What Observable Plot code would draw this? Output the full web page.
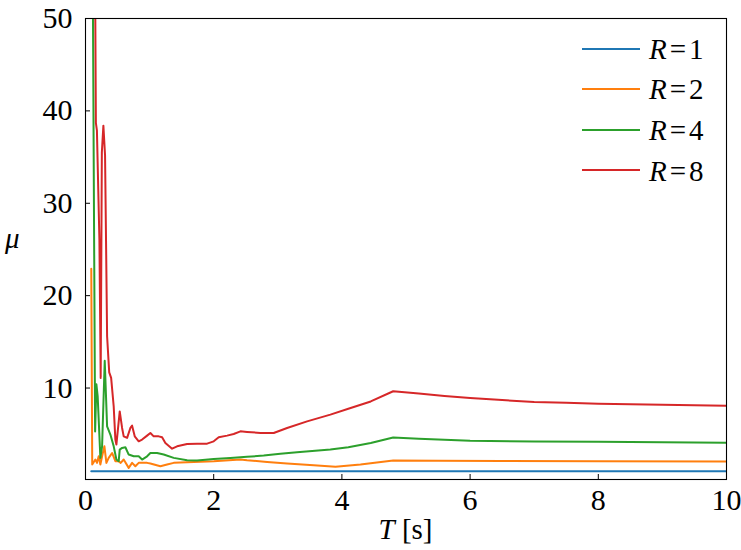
<!DOCTYPE html>
<html><head><meta charset="utf-8">
<script src="https://cdn.jsdelivr.net/npm/d3@7"></script>
<script src="https://cdn.jsdelivr.net/npm/@observablehq/plot@0.6"></script>
<style>
html,body{margin:0;padding:0;background:#fff;}
#wrap{position:relative;width:741px;height:550px;font-family:'Liberation Serif';color:#000;}
#wrap svg{position:absolute;left:0;top:0;}
.lab{position:absolute;font-size:29px;line-height:1;white-space:nowrap;font-family:'Liberation Serif';}
.eq{margin:0 3px;}
.swatch{position:absolute;height:2px;width:58px;}
</style></head><body><div id="wrap"></div>
<script>
// series keys, legend labels and colours
const seriesKeys = ["R=1", "R=2", "R=4", "R=8"];
const seriesNums = ["1", "2", "4", "8"];
const seriesColors = ["#1f77b4", "#ff7f0e", "#2ca02c", "#d62728"];

// R = 1
const T_R1 = [0.09, 10.0];
const MU_R1 = [1.0, 1.0];

// R = 2
const T_R2 = [0.09, 0.105, 0.154, 0.18, 0.206, 0.232, 0.259, 0.295, 0.326, 0.362, 0.415, 0.466, 0.518, 0.549, 0.596, 0.674, 0.727, 0.778, 0.83, 0.961, 1.012, 1.168, 1.273, 1.376, 1.585, 2.0, 2.417, 2.52, 2.833, 3.145, 3.56, 3.9, 4.29, 4.8, 5.5, 6.5, 8.0, 10.0];
const MU_R2 = [22.9, 1.72, 2.26, 1.9, 2.61, 1.72, 2.61, 3.69, 1.9, 2.44, 2.97, 2.08, 2.08, 1.9, 2.26, 1.36, 1.9, 1.53, 1.9, 1.9, 1.83, 1.53, 1.72, 1.9, 1.97, 2.08, 2.26, 2.18, 2.0, 1.83, 1.64, 1.47, 1.72, 2.15, 2.13, 2.1, 2.07, 2.04];

// R = 4
const T_R4 = [0.09, 0.113, 0.15, 0.17, 0.19, 0.232, 0.259, 0.30, 0.337, 0.388, 0.44, 0.482, 0.518, 0.534, 0.571, 0.622, 0.674, 0.752, 0.83, 0.883, 0.961, 1.012, 1.117, 1.22, 1.376, 1.585, 1.741, 2.0, 2.26, 2.52, 2.78, 3.04, 3.3, 3.82, 4.1, 4.45, 4.8, 5.2, 6.0, 7.0, 8.0, 9.0, 10.0];
const MU_R4 = [150, 55, 5.3, 10.4, 9.1, 2.44, 3.7, 12.95, 5.85, 4.96, 3.69, 2.26, 2.08, 3.34, 3.52, 3.59, 2.8, 2.61, 2.61, 2.26, 2.61, 2.97, 2.97, 2.8, 2.44, 2.18, 2.15, 2.33, 2.44, 2.55, 2.69, 2.9, 3.05, 3.34, 3.6, 4.05, 4.65, 4.5, 4.3, 4.22, 4.18, 4.12, 4.08];

// R = 8
const T_R8 = [0.09, 0.145, 0.162, 0.178, 0.217, 0.237, 0.255, 0.279, 0.305, 0.322, 0.337, 0.37, 0.40, 0.44, 0.466, 0.482, 0.534, 0.571, 0.596, 0.649, 0.70, 0.727, 0.768, 0.83, 0.883, 0.961, 1.012, 1.064, 1.142, 1.195, 1.246, 1.351, 1.429, 1.585, 1.741, 1.897, 2.0, 2.078, 2.209, 2.312, 2.417, 2.52, 2.729, 2.936, 3.145, 3.457, 3.82, 4.1, 4.45, 4.8, 5.2, 5.6, 6.0, 6.5, 7.0, 7.5, 8.0, 9.0, 10.0];
const MU_R8 = [300, 60, 38.7, 37.9, 26, 11.1, 35.5, 38.4, 35.2, 25, 15.6, 11.7, 11.1, 8.0, 4.42, 3.88, 7.47, 5.68, 4.77, 4.6, 5.68, 5.93, 4.77, 4.23, 4.42, 4.85, 5.14, 4.77, 4.77, 4.67, 4.06, 3.44, 3.69, 3.95, 3.98, 3.98, 4.23, 4.67, 4.85, 5.03, 5.31, 5.25, 5.14, 5.14, 5.68, 6.39, 7.12, 7.75, 8.55, 9.65, 9.4, 9.15, 8.92, 8.7, 8.5, 8.4, 8.3, 8.2, 8.08];

const xTicks = [0, 2, 4, 6, 8, 10];
const yTicks = [10, 20, 30, 40, 50];

const seriesT = [T_R1, T_R2, T_R4, T_R8];
const seriesMu = [MU_R1, MU_R2, MU_R4, MU_R8];
const rows = [];
seriesKeys.forEach((k, i) => {
  seriesT[i].forEach((t, j) => rows.push({series: k, T: t, mu: seriesMu[i][j]}));
});

const plot = Plot.plot({
  width: 741, height: 550,
  marginLeft: 85, marginRight: 15, marginTop: 18, marginBottom: 71,
  style: {fontFamily: "Liberation Serif", fontSize: "30px", background: "white", color: "black"},
  x: {domain: [0, 10]},
  y: {domain: [0.1, 50]},
  color: {domain: seriesKeys, range: seriesColors},
  marks: [
    Plot.line(rows, {x: "T", y: "mu", z: "series", stroke: "series", strokeWidth: 2, clip: true}),
    Plot.frame({stroke: "black", strokeWidth: 1.1}),
    Plot.axisX({ticks: xTicks, tickSize: -5, tickPadding: 14, label: null, tickFormat: d => String(d), fontVariant: "normal"}),
    Plot.axisY({ticks: yTicks, tickSize: -5, tickPadding: 18, label: null, tickFormat: d => String(d), fontVariant: "normal"})
  ]
});

const wrap = document.getElementById("wrap");
wrap.appendChild(plot);

// legend (inside the axes, upper right)
seriesKeys.forEach((k, i) => {
  const yc = 48.5 + i * 40.6;
  const sw = document.createElement("div");
  sw.className = "swatch";
  sw.style.left = "582px";
  sw.style.top = (yc - 1) + "px";
  sw.style.background = seriesColors[i];
  wrap.appendChild(sw);
  const t = document.createElement("div");
  t.className = "lab";
  t.style.left = "649px";
  t.style.top = (yc + 1 - 14.7) + "px";
  t.innerHTML = "<i>R</i><span class='eq'>=</span>" + seriesNums[i];
  wrap.appendChild(t);
});

// axis labels
const yl = document.createElement("div");
yl.className = "lab";
yl.style.left = "5px";
yl.style.top = "224px";
yl.innerHTML = "<i>μ</i>";
wrap.appendChild(yl);

const xl = document.createElement("div");
xl.className = "lab";
xl.style.left = "85px";
xl.style.width = "641px";
xl.style.textAlign = "center";
xl.style.top = "515px";
xl.innerHTML = "<i>T</i>&nbsp;[s]";
wrap.appendChild(xl);
</script>
</body></html>
